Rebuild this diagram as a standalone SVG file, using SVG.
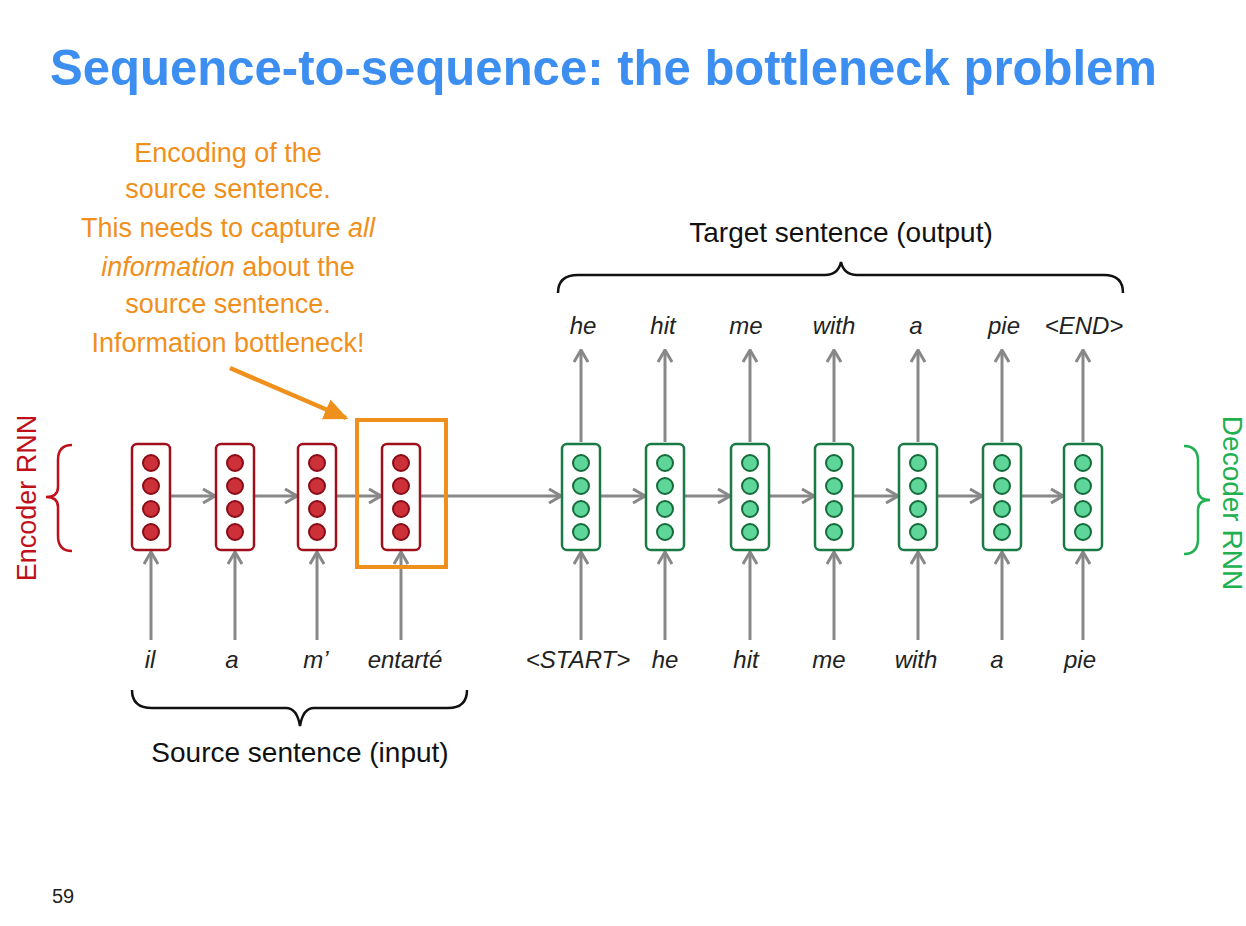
<svg xmlns="http://www.w3.org/2000/svg" width="1246" height="926" viewBox="0 0 1246 926">
<style>
.t{font-family:"Liberation Sans",Arial,sans-serif}
.title{font-size:50px;font-weight:bold;fill:#3c8ef0}
.or{font-size:27px;fill:#f0901c;text-anchor:middle}
.lab{font-size:28px;fill:#111;text-anchor:middle}
.w{font-size:24px;font-style:italic;fill:#222;text-anchor:middle}
.ebox{fill:#fff;stroke:#a0101c;stroke-width:2.5}
.ec{fill:#cc3038;stroke:#8a0c16;stroke-width:2}
.dbox{fill:#fff;stroke:#1a7a44;stroke-width:2.5}
.dc{fill:#5ed69a;stroke:#156b3a;stroke-width:2}
.ar{stroke:#888;stroke-width:3;fill:none}
.br{stroke:#111;stroke-width:2.5;fill:none}
</style>
<defs>
<marker id="ah" viewBox="0 0 14 16" refX="13" refY="8" markerWidth="14" markerHeight="16" markerUnits="userSpaceOnUse" orient="auto">
<path d="M1,1 L13,8 L1,15" fill="none" stroke="#888" stroke-width="3"/>
</marker>
<marker id="oh" viewBox="0 0 20 20" refX="18" refY="10" markerWidth="24" markerHeight="24" markerUnits="userSpaceOnUse" orient="auto">
<path d="M0,1 L20,10 L0,19 Z" fill="#f0901c"/>
</marker>
<g id="ecells">
<rect class="ebox" x="-19" y="-53" width="38" height="106" rx="5"/>
<circle class="ec" cx="0" cy="-34" r="8"/>
<circle class="ec" cx="0" cy="-11" r="8"/>
<circle class="ec" cx="0" cy="12" r="8"/>
<circle class="ec" cx="0" cy="35" r="8"/>
</g>
<g id="dcells">
<rect class="dbox" x="-19" y="-53" width="38" height="106" rx="5"/>
<circle class="dc" cx="0" cy="-34" r="8"/>
<circle class="dc" cx="0" cy="-11" r="8"/>
<circle class="dc" cx="0" cy="12" r="8"/>
<circle class="dc" cx="0" cy="35" r="8"/>
</g>
</defs>
<rect width="1246" height="926" fill="#fff"/>
<text class="t title" x="50" y="85" textLength="1107" lengthAdjust="spacingAndGlyphs">Sequence-to-sequence: the bottleneck problem</text>

<g id="callout">
<text class="t or" x="228" y="162">Encoding of the</text>
<text class="t or" x="228" y="198">source sentence.</text>
<text class="t or" x="228" y="237">This needs to capture <tspan font-style="italic">all</tspan></text>
<text class="t or" x="228" y="276"><tspan font-style="italic">information</tspan> about the</text>
<text class="t or" x="228" y="313">source sentence.</text>
<text class="t or" x="228" y="352">Information bottleneck!</text>
</g>

<g id="connectors">
<line class="ar" x1="171" y1="496" x2="215" y2="496" marker-end="url(#ah)"/>
<line class="ar" x1="255" y1="496" x2="297" y2="496" marker-end="url(#ah)"/>
<line class="ar" x1="337" y1="496" x2="381" y2="496" marker-end="url(#ah)"/>
<line class="ar" x1="421" y1="496" x2="561" y2="496" marker-end="url(#ah)"/>
<line class="ar" x1="600" y1="496" x2="645" y2="496" marker-end="url(#ah)"/>
<line class="ar" x1="684" y1="496" x2="730" y2="496" marker-end="url(#ah)"/>
<line class="ar" x1="769" y1="496" x2="814" y2="496" marker-end="url(#ah)"/>
<line class="ar" x1="853" y1="496" x2="898" y2="496" marker-end="url(#ah)"/>
<line class="ar" x1="937" y1="496" x2="982" y2="496" marker-end="url(#ah)"/>
<line class="ar" x1="1021" y1="496" x2="1063" y2="496" marker-end="url(#ah)"/>
<line class="ar" x1="151" y1="640" x2="151" y2="552" marker-end="url(#ah)"/>
<line class="ar" x1="235" y1="640" x2="235" y2="552" marker-end="url(#ah)"/>
<line class="ar" x1="317" y1="640" x2="317" y2="552" marker-end="url(#ah)"/>
<line class="ar" x1="401" y1="640" x2="401" y2="552" marker-end="url(#ah)"/>
<line class="ar" x1="581" y1="640" x2="581" y2="552" marker-end="url(#ah)"/>
<line class="ar" x1="665" y1="640" x2="665" y2="552" marker-end="url(#ah)"/>
<line class="ar" x1="750" y1="640" x2="750" y2="552" marker-end="url(#ah)"/>
<line class="ar" x1="834" y1="640" x2="834" y2="552" marker-end="url(#ah)"/>
<line class="ar" x1="918" y1="640" x2="918" y2="552" marker-end="url(#ah)"/>
<line class="ar" x1="1002" y1="640" x2="1002" y2="552" marker-end="url(#ah)"/>
<line class="ar" x1="1083" y1="640" x2="1083" y2="552" marker-end="url(#ah)"/>
<line class="ar" x1="581" y1="442" x2="581" y2="350" marker-end="url(#ah)"/>
<line class="ar" x1="665" y1="442" x2="665" y2="350" marker-end="url(#ah)"/>
<line class="ar" x1="750" y1="442" x2="750" y2="350" marker-end="url(#ah)"/>
<line class="ar" x1="834" y1="442" x2="834" y2="350" marker-end="url(#ah)"/>
<line class="ar" x1="918" y1="442" x2="918" y2="350" marker-end="url(#ah)"/>
<line class="ar" x1="1002" y1="442" x2="1002" y2="350" marker-end="url(#ah)"/>
<line class="ar" x1="1083" y1="442" x2="1083" y2="350" marker-end="url(#ah)"/>
<line x1="230" y1="368" x2="346" y2="418" stroke="#f0901c" stroke-width="4.5" marker-end="url(#oh)"/>
</g>

<g id="encoder">
<use href="#ecells" x="151" y="497"/>
<use href="#ecells" x="235" y="497"/>
<use href="#ecells" x="317" y="497"/>
<use href="#ecells" x="401" y="497"/>
</g>
<g id="bottleneck-box">
<rect x="357" y="420" width="89" height="147" fill="none" stroke="#f0901c" stroke-width="4"/>
</g>
<g id="decoder">
<use href="#dcells" x="581" y="497"/>
<use href="#dcells" x="665" y="497"/>
<use href="#dcells" x="750" y="497"/>
<use href="#dcells" x="834" y="497"/>
<use href="#dcells" x="918" y="497"/>
<use href="#dcells" x="1002" y="497"/>
<use href="#dcells" x="1083" y="497"/>
</g>

<g id="source-words">
<text class="t w" x="150" y="668">il</text>
<text class="t w" x="232" y="668">a</text>
<text class="t w" x="316" y="668">m’</text>
<text class="t w" x="405" y="668">entarté</text>
</g>
<g id="decoder-inputs">
<text class="t w" x="578" y="668">&lt;START&gt;</text>
<text class="t w" x="665" y="668">he</text>
<text class="t w" x="746" y="668">hit</text>
<text class="t w" x="829" y="668">me</text>
<text class="t w" x="916" y="668">with</text>
<text class="t w" x="997" y="668">a</text>
<text class="t w" x="1080" y="668">pie</text>
</g>
<g id="target-words">
<text class="t w" x="583" y="334">he</text>
<text class="t w" x="663" y="334">hit</text>
<text class="t w" x="746" y="334">me</text>
<text class="t w" x="834" y="334">with</text>
<text class="t w" x="916" y="334">a</text>
<text class="t w" x="1004" y="334">pie</text>
<text class="t w" x="1084" y="334">&lt;END&gt;</text>
</g>

<g id="target-brace">
<path class="br" d="M558,293 Q558,275 578,275 L825,275 Q838,275 841,262 Q844,275 857,275 L1104,275 Q1123,275 1123,293"/>
<text class="t lab" x="841" y="242">Target sentence (output)</text>
</g>
<g id="source-brace">
<path class="br" d="M132,690 Q132,708 152,708 L286,708 Q297,708 300,726 Q303,708 314,708 L448,708 Q467,708 467,690"/>
<text class="t lab" x="300" y="762">Source sentence (input)</text>
</g>

<g id="encoder-label">
<path d="M72,445 Q58,445 58,460 L58,487 Q58,497 46,497 Q58,497 58,507 L58,536 Q58,551 72,551" fill="none" stroke="#c0101a" stroke-width="2.5"/>
<text class="t" x="0" y="0" transform="translate(36,498) rotate(-90)" text-anchor="middle" font-size="27" fill="#c0101a">Encoder RNN</text>
</g>
<g id="decoder-label">
<path d="M1184,446 Q1198,446 1198,461 L1198,490 Q1198,500 1210,500 Q1198,500 1198,510 L1198,539 Q1198,554 1184,554" fill="none" stroke="#20b050" stroke-width="2.5"/>
<text class="t" x="0" y="0" transform="translate(1223,503) rotate(90)" text-anchor="middle" font-size="28" fill="#20b050">Decoder RNN</text>
</g>

<text class="t" x="52" y="903" font-size="20" fill="#222">59</text>
</svg>
